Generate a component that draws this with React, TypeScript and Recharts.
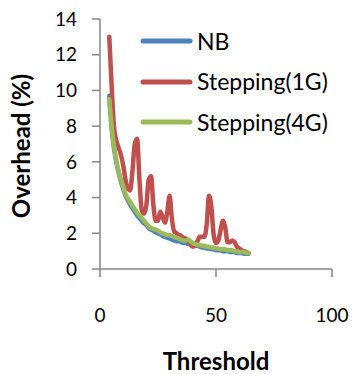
import { LineChart, Line, XAxis, YAxis } from 'recharts'

// Threshold values on the x axis (shared by all series)
const thresholds = [
  4, 5, 6, 7, 8, 9, 10, 11, 12, 13, 14, 15, 16, 17, 18, 19, 20, 21, 22, 23, 24,
  25, 26, 27, 28, 29, 30, 31, 32, 33, 34, 35, 36, 37, 38, 39, 40, 41, 42, 43, 44,
  45, 46, 47, 48, 49, 50, 51, 52, 53, 54, 55, 56, 57, 58, 59, 60, 61, 62, 63, 64,
]

const nb = [
  9.7, 7.9, 6.8, 6.0, 5.4, 4.9, 4.5, 4.1, 3.85, 3.6, 3.4, 3.2, 3.0, 2.85, 2.7, 2.55, 2.45, 2.3, 2.2, 2.15, 2.05,
  2.0, 1.95, 1.85, 1.8, 1.75, 1.7, 1.65, 1.6, 1.55, 1.55, 1.5, 1.45, 1.45, 1.4, 1.35, 1.35, 1.3, 1.3, 1.25, 1.2,
  1.2, 1.15, 1.15, 1.1, 1.1, 1.05, 1.05, 1.05, 1.0, 1.0, 1.0, 0.95, 0.95, 0.95, 0.9, 0.9, 0.9, 0.85, 0.85, 0.85,
]

const stepping1G = [
  13.0, 10.3, 8.0, 7.2, 6.8, 6.4, 5.8, 5.0, 4.5, 4.4, 5.5, 7.0, 7.3, 5.0, 3.3, 3.1, 3.6, 5.0, 5.2, 3.6, 2.7,
  2.7, 3.2, 2.9, 2.6, 3.2, 4.1, 2.8, 2.1, 2.0, 1.9, 1.85, 1.75, 1.7, 1.6, 1.4, 1.25, 1.3, 1.55, 1.8, 1.8,
  1.8, 2.5, 4.1, 3.5, 1.9, 1.45, 1.6, 2.2, 2.7, 2.3, 1.5, 1.5, 1.6, 1.5, 1.25, 1.15, 1.05, 1.0, 0.95, 0.9,
]

const stepping4G = [
  9.5, 8.0, 6.9, 6.1, 5.5, 5.0, 4.6, 4.2, 3.95, 3.75, 3.55, 3.35, 3.15, 3.0, 2.85, 2.7, 2.55, 2.4, 2.3, 2.25, 2.2,
  2.15, 2.05, 2.0, 1.95, 1.9, 1.9, 1.85, 1.8, 1.75, 1.7, 1.65, 1.6, 1.6, 1.65, 1.55, 1.45, 1.4, 1.35, 1.35, 1.3,
  1.3, 1.25, 1.25, 1.2, 1.2, 1.15, 1.15, 1.1, 1.1, 1.1, 1.05, 1.05, 1.05, 1.0, 1.0, 0.95, 0.95, 0.95, 0.9, 0.9,
]

const xTicks = [0, 50, 100]
const yTicks = [0, 2, 4, 6, 8, 10, 12, 14]

const series = [
  { key: 'nb', name: 'NB', color: '#4F81BD' },
  { key: 's1', name: 'Stepping(1G)', color: '#C0504D' },
  { key: 's4', name: 'Stepping(4G)', color: '#9BBB59' },
]

const data = thresholds.map((x, i) => ({
  x,
  nb: nb[i],
  s1: stepping1G[i],
  s4: stepping4G[i],
}))

const FONT = 'Lato, "Open Sans", sans-serif'
const AXIS = '#868686'

// legend sits inside the plot, top right, like the Excel original
function LegendBox() {
  return (
    <div
      style={{
        position: 'absolute',
        left: 140,
        top: 21,
        fontFamily: FONT,
        fontSize: 23,
        color: '#000',
        pointerEvents: 'none',
      }}
    >
      {series.map((s) => (
        <div key={s.key} style={{ display: 'flex', alignItems: 'center', height: 40.5 }}>
          <svg width={53} height={8} style={{ display: 'block' }}>
            <line x1={3} y1={4} x2={50} y2={4} stroke={s.color} strokeWidth={5} strokeLinecap="round" />
          </svg>
          <span style={{ marginLeft: 4, lineHeight: 1, whiteSpace: 'nowrap' }}>{s.name}</span>
        </div>
      ))}
    </div>
  )
}

export default function App() {
  return (
    <div style={{ position: 'absolute', left: 0, top: 0, width: 352, height: 374, background: '#fff' }}>
      <LineChart width={352} height={374} data={data} margin={{ top: 19, right: 20, bottom: 45, left: 0 }}>
        <XAxis
          dataKey="x"
          type="number"
          domain={[0, 100]}
          ticks={xTicks}
          height={60}
          tickSize={8}
          tickMargin={32}
          axisLine={{ stroke: AXIS, strokeWidth: 1.5 }}
          tickLine={{ stroke: AXIS, strokeWidth: 1.5 }}
          tick={{ fill: '#000', fontSize: 19, fontFamily: FONT }}
          label={{
            content: (p: any) => (
              <text
                x={p.viewBox.x + p.viewBox.width / 2}
                y={p.viewBox.y + 101}
                textAnchor="middle"
                fontFamily={FONT}
                fontWeight="bold"
                fontSize={24}
                fill="#000"
              >
                Threshold
              </text>
            ),
          }}
        />
        <YAxis
          type="number"
          domain={[0, 14]}
          ticks={yTicks}
          width={100}
          tickSize={8}
          tickMargin={15}
          axisLine={{ stroke: AXIS, strokeWidth: 1.5 }}
          tickLine={{ stroke: AXIS, strokeWidth: 1.5 }}
          tick={{ fill: '#000', fontSize: 19, fontFamily: FONT }}
          label={{
            content: (p: any) => {
              const cy = p.viewBox.y + p.viewBox.height / 2 + 2
              return (
                <text
                  x={30}
                  y={cy}
                  transform={`rotate(-90, 30, ${cy})`}
                  textAnchor="middle"
                  fontFamily={FONT}
                  fontWeight="bold"
                  fontSize={24}
                  fill="#000"
                >
                  Overhead (%)
                </text>
              )
            },
          }}
        />
        {series.map((s) => (
          <Line
            key={s.key}
            type="monotone"
            dataKey={s.key}
            name={s.name}
            stroke={s.color}
            strokeWidth={4.5}
            strokeLinecap="round"
            strokeLinejoin="round"
            dot={false}
            activeDot={false}
            isAnimationActive={false}
          />
        ))}
      </LineChart>
      <LegendBox />
    </div>
  )
}
